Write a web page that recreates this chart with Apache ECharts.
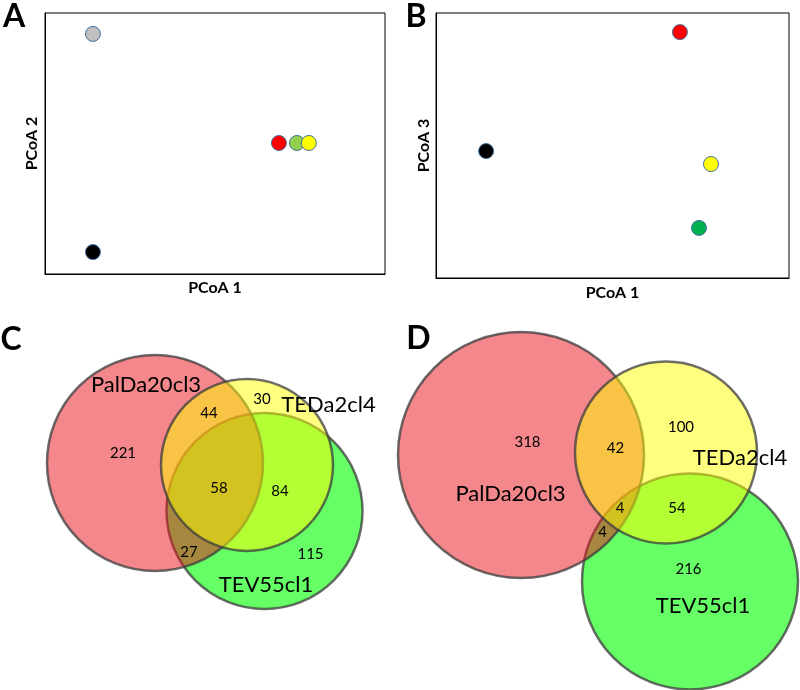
<!DOCTYPE html>
<html>
<head>
<meta charset="utf-8">
<script src="https://cdn.jsdelivr.net/npm/echarts@6/dist/echarts.min.js"></script>
<style>html,body{margin:0;padding:0;background:#fff;}#main{width:800px;height:690px;}</style>
</head>
<body>
<div id="main"></div>
<script>
// ---- Panel A: PCoA 1 vs PCoA 2 (arbitrary units, 0-100) ----
const pcoaA_x = [14.1, 14.1, 68.8, 74.1, 77.6];
const pcoaA_y = [92.0, 8.4, 50.2, 50.2, 50.2];
const pcoaA_colors = ['#BFBFBF', '#000000', '#FF0000', '#92D050', '#FFFF00'];

// ---- Panel B: PCoA 1 vs PCoA 3 ----
const pcoaB_x = [69.1, 14.2, 77.9, 74.5];
const pcoaB_y = [92.8, 47.9, 43.0, 18.9];
const pcoaB_colors = ['#FF0000', '#000000', '#FFFF00', '#00B050'];

// ---- Venn sets ----
const vennSets = ['PalDa20cl3', 'TEDa2cl4', 'TEV55cl1'];

// Panel C circles (center x, center y, radius) in panel units
const vennC_cx = [155, 247, 264.5];
const vennC_cy = [153, 155, 201];
const vennC_r  = [108, 86, 98];
const vennC_labelX = [146, 328.5, 266];
const vennC_labelY = [75, 94.5, 275];
const vennC_counts = [221, 44, 30, 58, 84, 27, 115];
const vennC_countX = [123, 209, 262, 219, 280, 189, 310.5];
const vennC_countY = [143, 103, 89.5, 178, 181, 242, 244];

// Panel D circles
const vennD_cx = [121, 266, 290];
const vennD_cy = [145, 142.5, 271.5];
const vennD_r  = [123, 91, 108];
const vennD_labelX = [110.5, 340, 303];
const vennD_labelY = [183.5, 148, 296];
const vennD_counts = [318, 42, 100, 4, 54, 4, 216];
const vennD_countX = [127.5, 215.5, 281, 220, 277, 202.5, 288.5];
const vennD_countY = [132, 138.5, 117.5, 198.5, 198, 222.5, 259];

// style
const vennFill = ['rgba(232,16,26,0.5)', 'rgba(255,255,0,0.5)', 'rgba(0,255,0,0.6)'];
const drawOrder = [2, 0, 1];
const FONT = 'Lato';

const chart = echarts.init(document.getElementById('main'), null, {renderer: 'canvas'});

function scatterData(xs, ys, colors) {
  return xs.map((x, i) => ({value: [x, ys[i]], itemStyle: {color: colors[i]}}));
}

function circleSeries(idx, cx, cy, r) {
  const data = drawOrder.map(i => [cx[i], cy[i], r[i], i]);
  return {
    type: 'custom', xAxisIndex: idx, yAxisIndex: idx, silent: true,
    data: data,
    renderItem: function (params, api) {
      const c = api.coord([api.value(0), api.value(1)]);
      const s = api.size([api.value(2), api.value(2)]);
      return {
        type: 'circle',
        shape: {cx: c[0], cy: c[1], r: s[0]},
        style: {fill: vennFill[api.value(3)], stroke: 'rgba(60,60,60,0.75)', lineWidth: 2.5}
      };
    },
    z: 2
  };
}

function textSeries(idx, xs, ys, texts, size) {
  const data = xs.map((x, i) => [x, ys[i], i]);
  return {
    type: 'custom', xAxisIndex: idx, yAxisIndex: idx, silent: true,
    data: data,
    renderItem: function (params, api) {
      const c = api.coord([api.value(0), api.value(1)]);
      return {
        type: 'text',
        style: {text: String(texts[api.value(2)]), x: c[0], y: c[1], align: 'center', verticalAlign: 'middle',
                fontSize: size, fontFamily: FONT, fill: '#000'}
      };
    },
    z: 5
  };
}

const nameStyle = {fontFamily: FONT, fontWeight: 'bold', fontSize: 16, color: '#000'};
function valAxis(gridIndex, name, gap, extra) {
  return Object.assign({
    type: 'value', gridIndex: gridIndex, min: 0, max: 100,
    name: name, nameLocation: 'middle', nameGap: gap, nameTextStyle: nameStyle,
    axisLine: {show: true, onZero: false, lineStyle: {color: '#000', width: 1}},
    axisTick: {show: false}, axisLabel: {show: false}, splitLine: {show: false}
  }, extra || {});
}
function hiddenAxis(gridIndex, max, inverse) {
  return {type: 'value', gridIndex: gridIndex, min: 0, max: max, inverse: !!inverse, show: false,
          splitLine: {show: false}};
}

const letterStyle = (t, x, y) => ({type: 'text', x: x, y: y, silent: true,
  style: {text: t, align: 'center', verticalAlign: 'middle', font: 'bold 32px ' + FONT, fill: '#000'}});

chart.setOption({
  animation: false,
  backgroundColor: '#fff',
  grid: [
    {left: 45, top: 13, width: 340, height: 261, show: true, borderColor: '#000', borderWidth: 1, backgroundColor: '#fff'},
    {left: 436, top: 13, width: 353, height: 265, show: true, borderColor: '#000', borderWidth: 1, backgroundColor: '#fff'},
    {left: 0, top: 310, width: 400, height: 380},
    {left: 400, top: 310, width: 400, height: 380}
  ],
  xAxis: [
    valAxis(0, 'PCoA 1', 6),
    valAxis(1, 'PCoA 1', 7),
    hiddenAxis(2, 400),
    hiddenAxis(3, 400)
  ],
  yAxis: [
    valAxis(0, 'PCoA 2', 5),
    valAxis(1, 'PCoA 3', 4),
    hiddenAxis(2, 380, true),
    hiddenAxis(3, 380, true)
  ],
  graphic: [
    letterStyle('A', 14, 16.5),
    letterStyle('B', 416, 16.5),
    letterStyle('C', 11, 340),
    letterStyle('D', 418.5, 339)
  ],
  series: [
    {type: 'scatter', xAxisIndex: 0, yAxisIndex: 0, symbolSize: 15,
     itemStyle: {borderColor: '#41719C', borderWidth: 1, opacity: 1},
     data: scatterData(pcoaA_x, pcoaA_y, pcoaA_colors)},
    {type: 'scatter', xAxisIndex: 1, yAxisIndex: 1, symbolSize: 15,
     itemStyle: {borderColor: '#41719C', borderWidth: 1, opacity: 1},
     data: scatterData(pcoaB_x, pcoaB_y, pcoaB_colors)},
    circleSeries(2, vennC_cx, vennC_cy, vennC_r),
    textSeries(2, vennC_labelX, vennC_labelY, vennSets, 22),
    textSeries(2, vennC_countX, vennC_countY, vennC_counts, 15),
    circleSeries(3, vennD_cx, vennD_cy, vennD_r),
    textSeries(3, vennD_labelX, vennD_labelY, vennSets, 22),
    textSeries(3, vennD_countX, vennD_countY, vennD_counts, 15)
  ]
});
</script>
</body>
</html>
